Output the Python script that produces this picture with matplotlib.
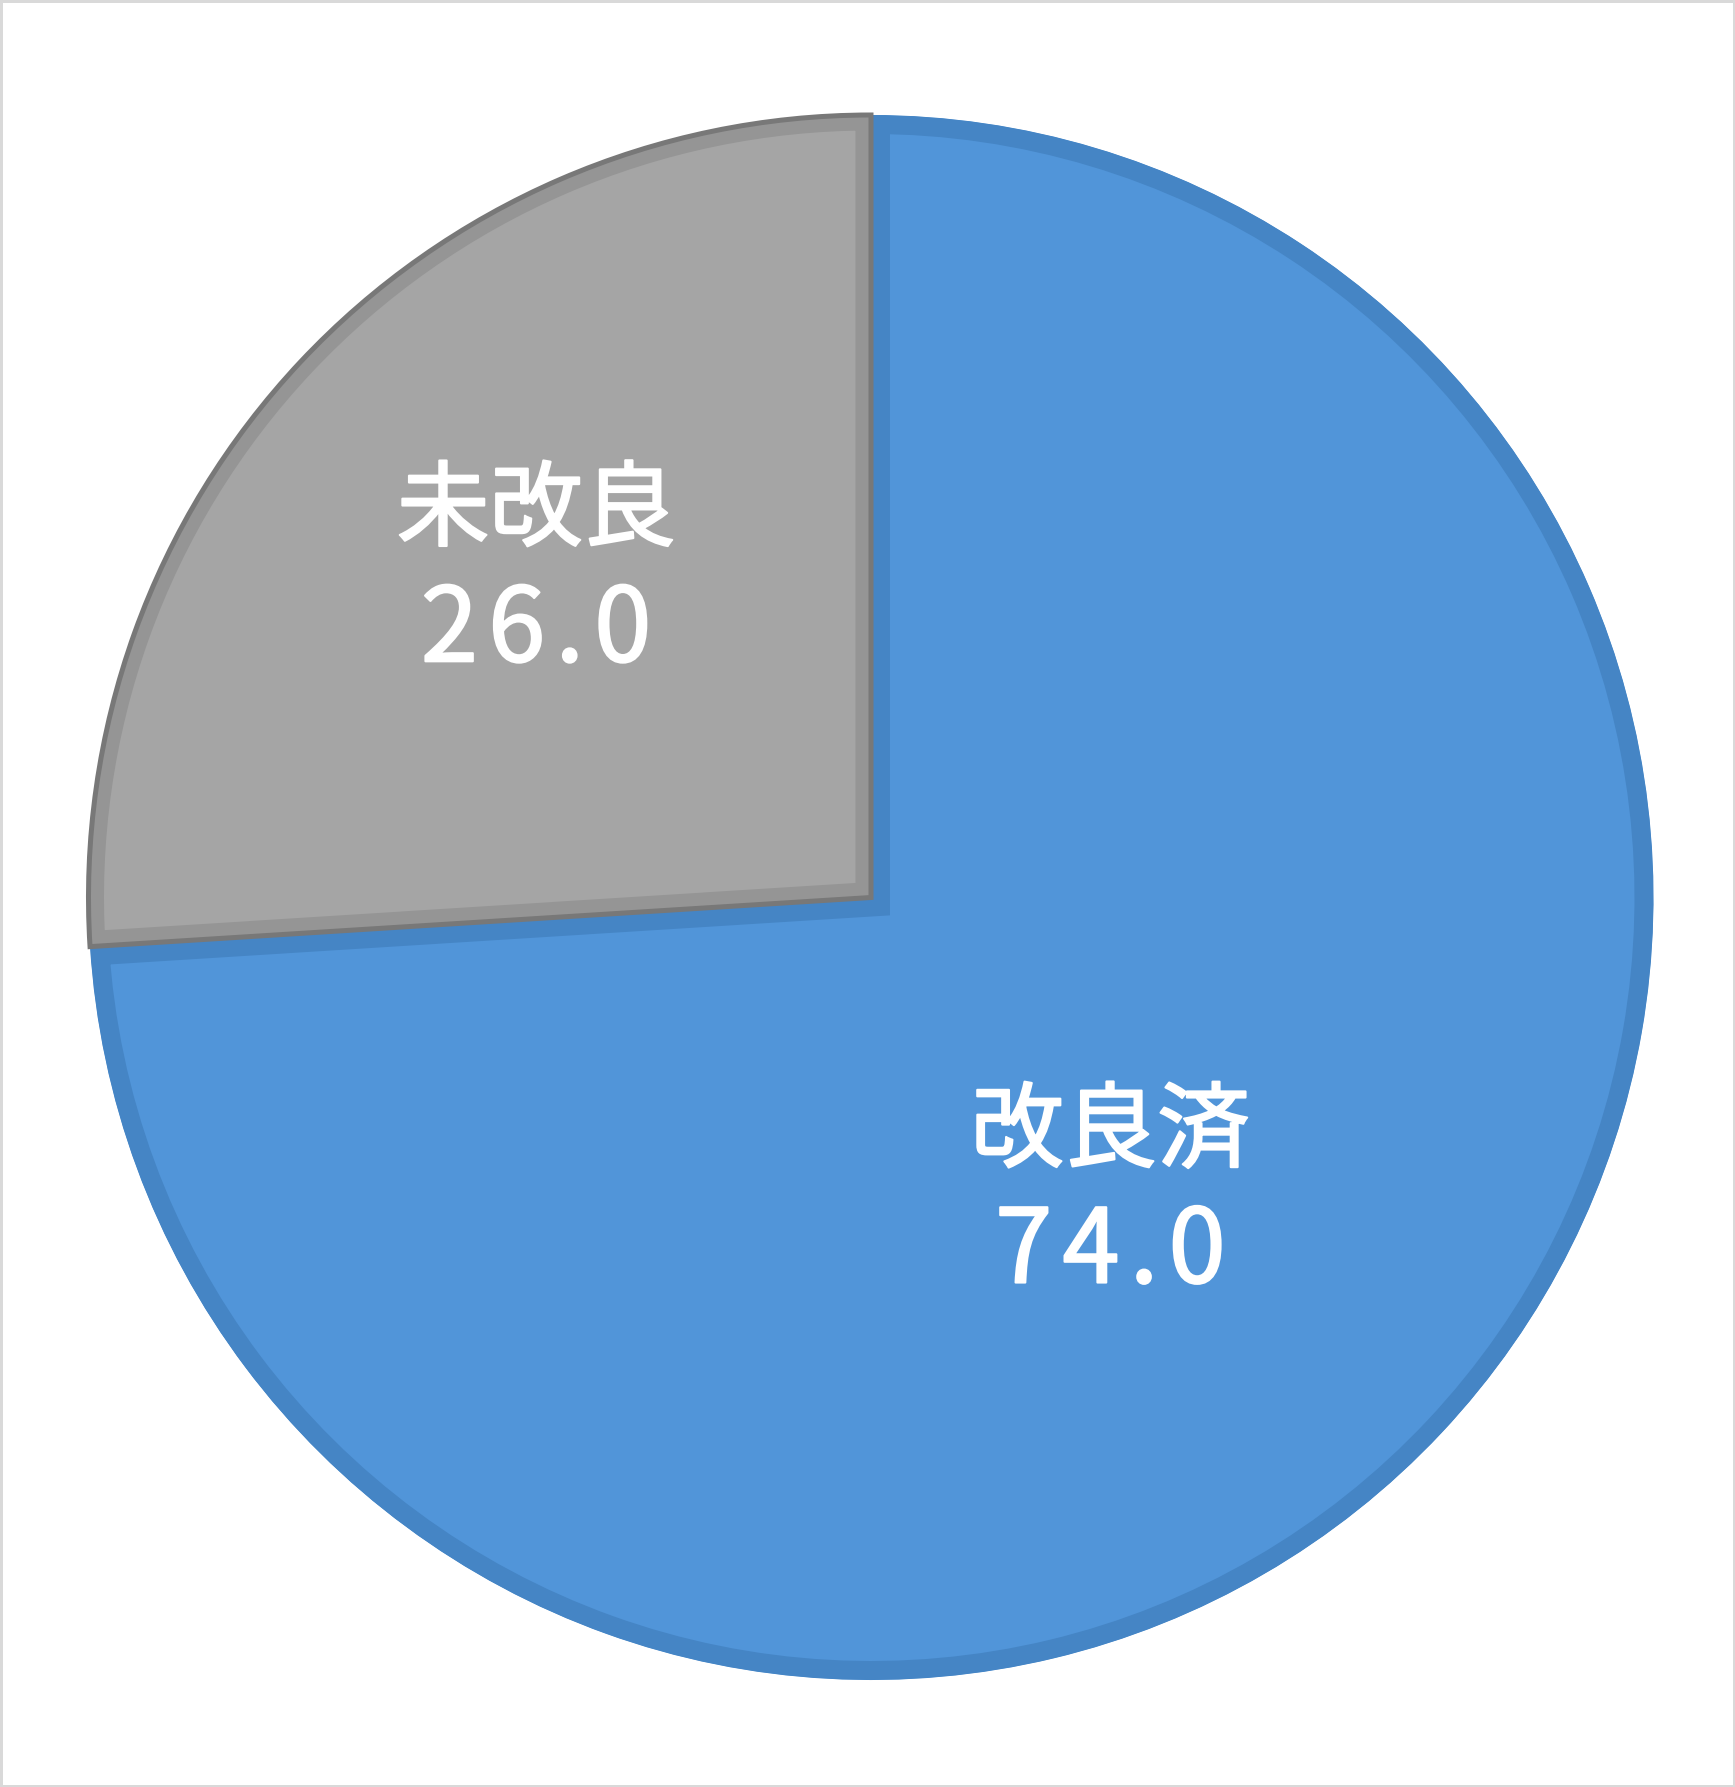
import numpy as np
import matplotlib
matplotlib.use("Agg")
import matplotlib.pyplot as plt
from matplotlib.patches import Rectangle, Wedge
import matplotlib.patheffects as pe

# ---- data ----
categories = ["改良済", "未改良"]
values = [74.0, 26.0]

# ---- style ----
W, H = 1735, 1787
center = (871, H - 897.5)
radius = 782.5
fill_colors = ["#5195D9", "#A5A5A5"]
border_colors = ["#4585C5", "#959595"]
border_px = [19, 15.5]
outline_color = "#787878"
outline_px = 5
explode = [0.0, 0.0068]
label_pos = [(0.486, -51.0), (0.597, 135.8)]   # (fraction of radius, angle deg)
line_offset = 60  # px between label centre and each line centre

plt.rcParams['font.family'] = ['Noto Sans CJK JP', 'DejaVu Sans']
px2pt = 72 / 100

fig = plt.figure(figsize=(W / 100, H / 100), dpi=100)
ax = fig.add_axes([0, 0, 1, 1])

wedges, _ = ax.pie(values, colors=fill_colors, startangle=90, counterclock=False,
                   center=center, radius=radius, explode=explode,
                   wedgeprops=dict(linewidth=0))

for i, w in enumerate(wedges):
    w.set_edgecolor(border_colors[i])
    w.set_linewidth(2 * border_px[i] * px2pt)
    w.set_joinstyle('miter')
    w.set_clip_on(True)
    w.set_clip_path(w)

# outline of the grey slice
g = wedges[1]
ow = Wedge(g.center, g.r, g.theta1, g.theta2, facecolor='none',
           edgecolor=outline_color, linewidth=outline_px * px2pt, joinstyle='miter')
ax.add_patch(ow)

thick = [pe.withStroke(linewidth=1.5, foreground='white')]
for i, (cat, val) in enumerate(zip(categories, values)):
    frac, ang = label_pos[i]
    x = center[0] + frac * radius * np.cos(np.deg2rad(ang))
    y = center[1] + frac * radius * np.sin(np.deg2rad(ang))
    ax.text(x, y + line_offset, cat, ha='center', va='center', color='white',
            fontsize=67, fontweight='normal', zorder=5, path_effects=thick)
    num = "\u200a".join(f"{val:.1f}")
    ax.text(x, y - line_offset, num, ha='center', va='center', color='white',
            fontsize=74, fontweight='normal', zorder=5, path_effects=thick)

ax.set_xlim(0, W)
ax.set_ylim(0, H)
ax.set_aspect('equal')
ax.axis('off')

fig.patches.append(Rectangle((0, 0), 1, 1, transform=fig.transFigure, fill=False,
                             edgecolor='#D9D9D9', linewidth=5 * px2pt))

fig.savefig("out.png", dpi=100, facecolor='white')
